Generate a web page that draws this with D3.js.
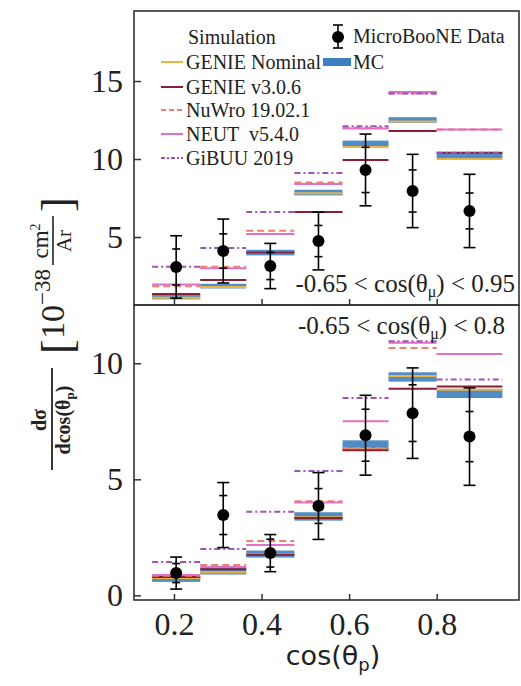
<!DOCTYPE html>
<html><head><meta charset="utf-8">
<script src="https://cdn.jsdelivr.net/npm/d3@7/dist/d3.min.js"></script>
<style>body{margin:0;background:#fff}svg{display:block}
.serif, .serif text{font-family:"Liberation Serif","Times New Roman",serif !important;}
</style>
</head><body>
<svg id="c" width="521" height="686"></svg>
<script>
// ---------------- data ----------------
const binEdges = [0.15, 0.26, 0.365, 0.475, 0.585, 0.69, 0.80, 0.95];
const xTicks = [0.2, 0.4, 0.6, 0.8];
const yTicksTop = [5, 10, 15];
const yTicksBottom = [0, 5, 10];

// Top panel: -0.65 < cos(theta_mu) < 0.95
const topData     = [3.08, 4.10, 3.14, 4.74, 9.30, 7.95, 6.67];
const topErrTot   = [2.00, 2.05, 1.45, 1.85, 2.30, 2.35, 2.35];
const topErrStat  = [1.15, 1.10, 0.87, 1.00, 1.45, 1.35, 1.15];
const topMC       = [1.15, 1.85, 4.00, 7.85, 11.0, 12.5, 10.2];
const topMCErr    = [0.15, 0.15, 0.18, 0.18, 0.18, 0.18, 0.18];
const topNominal  = [1.10, 1.80, 4.00, 7.80, 10.77, 12.4, 10.0];
const topGenieV3  = [1.35, 2.25, 4.00, 6.60, 9.94, 11.8, 10.4];
const topNuWro    = [1.85, 3.10, 5.40, 8.50, 12.0, 14.2, 11.9];
const topNEUT     = [1.95, 3.00, 5.20, 8.40, 11.95, 14.3, 11.9];
const topGiBUU    = [3.10, 4.30, 6.60, 9.10, 12.1, 14.2, 10.4];

// Bottom panel: -0.65 < cos(theta_mu) < 0.8
const botData     = [0.96, 3.46, 1.82, 3.85, 6.90, 7.85, 6.84];
const botErrTot   = [0.69, 1.40, 0.80, 1.44, 1.72, 1.95, 2.10];
const botErrStat  = [0.41, 0.84, 0.60, 0.75, 1.12, 1.22, 1.08];
const botMC       = [0.70, 1.05, 1.78, 3.40, 6.48, 9.41, 8.70];
const botMCErr    = [0.12, 0.15, 0.15, 0.18, 0.2, 0.2, 0.2];
const botNominal  = [0.75, 1.00, 1.78, 3.37, 6.30, 9.45, 8.86];
const botGenieV3  = [0.79, 1.13, 1.75, 3.33, 6.25, 8.90, 9.00];
const botNuWro    = [0.85, 1.31, 2.34, 4.06, 6.35, 10.66, 10.4];
const botNEUT     = [0.875, 1.22, 2.17, 4.00, 7.50, 10.88, 10.4];
const botGiBUU    = [1.44, 2.00, 3.60, 5.36, 8.50, 10.95, 9.30];

const models = [
  {name: "GENIE Nominal", key: "nominal", color: "#e9b448", dash: null},
  {name: "GENIE v3.0.6",  key: "v3",      color: "#8a1f33", dash: null},
  {name: "NuWro 19.02.1", key: "nuwro",   color: "#ec8070", dash: "7,4"},
  {name: "NEUT  v5.4.0",  key: "neut",    color: "#e070c4", dash: null},
  {name: "GiBUU 2019",    key: "gibuu",   color: "#9b55b8", dash: "6,3,2,3"}
];
const mcColor = "#3d7fc0";

// ---------------- layout ----------------
const svg = d3.select("#c");
const L = 134, R = 519;
const topY0 = 11, midY = 305, botY1 = 600;

const x = d3.scaleLinear().domain([0.1087, 0.988]).range([L, R]);
const yTop = d3.scaleLinear().domain([0.64, 19.49]).range([midY, topY0]);
const yBot = d3.scaleLinear().domain([-0.2, 12.51]).range([botY1, midY]);

function drawPanel(y, vals, ticks, showXLabels) {
  const g = svg.append("g");
  const n = vals.data.length;
  const bins = d3.range(n).map(i => ({lo: binEdges[i], hi: binEdges[i+1], c: (binEdges[i]+binEdges[i+1])/2}));
  g.selectAll("rect.mc").data(bins).join("rect")
    .attr("x", d => x(d.lo)).attr("width", d => x(d.hi) - x(d.lo))
    .attr("y", (d,i) => y(vals.mc[i] + vals.mcErr[i]))
    .attr("height", (d,i) => y(vals.mc[i] - vals.mcErr[i]) - y(vals.mc[i] + vals.mcErr[i]))
    .attr("fill", mcColor).attr("opacity", 0.9);
  models.forEach(m => {
    g.selectAll(null).data(bins).join("line")
      .attr("x1", d => x(d.lo)).attr("x2", d => x(d.hi))
      .attr("y1", (d,i) => y(vals[m.key][i])).attr("y2", (d,i) => y(vals[m.key][i]))
      .attr("stroke", m.color).attr("stroke-width", 2)
      .attr("stroke-dasharray", m.dash);
  });
  bins.forEach((d,i) => {
    const cx = x(d.c), v = vals.data[i];
    const et = vals.errTot[i], es = vals.errStat[i];
    g.append("line").attr("x1", cx).attr("x2", cx).attr("y1", y(v+et)).attr("y2", y(v-et))
      .attr("stroke", "#000").attr("stroke-width", 1.6);
    [v+et, v-et].forEach(e => g.append("line").attr("x1", cx-6).attr("x2", cx+6)
      .attr("y1", y(e)).attr("y2", y(e)).attr("stroke", "#000").attr("stroke-width", 1.6));
    [v+es, v-es].forEach(e => g.append("line").attr("x1", cx-4).attr("x2", cx+4)
      .attr("y1", y(e)).attr("y2", y(e)).attr("stroke", "#000").attr("stroke-width", 1.6));
    g.append("circle").attr("cx", cx).attr("cy", y(v)).attr("r", 6).attr("fill", "#000");
  });
  const r = y.range();
  const ya = d3.axisLeft(y).tickValues(ticks).tickSize(-7).tickPadding(11).tickFormat(d3.format("d"));
  const yg = g.append("g").attr("class", "serif").attr("transform", `translate(${L},0)`).call(ya);
  yg.attr("font-family", null).attr("font-size", 32);
  yg.select(".domain").remove();
  yg.selectAll("text").attr("fill", "#222");
  yg.selectAll("line").attr("stroke", "#333").attr("stroke-width", 1.5);
  const xa = d3.axisBottom(x).tickValues(xTicks).tickSize(-6).tickPadding(12)
    .tickFormat(showXLabels ? d3.format(".1f") : "");
  const xg = g.append("g").attr("class", "serif").attr("transform", `translate(0,${r[0]})`).call(xa);
  xg.attr("font-family", null).attr("font-size", 32);
  xg.select(".domain").remove();
  xg.selectAll("text").attr("fill", "#222");
  xg.selectAll("line").attr("stroke", "#333").attr("stroke-width", 1.5);
  g.append("rect").attr("x", L).attr("y", r[1]).attr("width", R-L).attr("height", r[0]-r[1])
    .attr("fill", "none").attr("stroke", "#333").attr("stroke-width", 1.6);
  return g;
}

const topVals = {data: topData, errTot: topErrTot, errStat: topErrStat, mc: topMC, mcErr: topMCErr,
  nominal: topNominal, v3: topGenieV3, nuwro: topNuWro, neut: topNEUT, gibuu: topGiBUU};
const botVals = {data: botData, errTot: botErrTot, errStat: botErrStat, mc: botMC, mcErr: botMCErr,
  nominal: botNominal, v3: botGenieV3, nuwro: botNuWro, neut: botNEUT, gibuu: botGiBUU};

drawPanel(yTop, topVals, yTicksTop, false);
drawPanel(yBot, botVals, yTicksBottom, true);

// annotations
function cosLabel(xEnd, yBase, hi) {
  const t = svg.append("text").attr("class", "serif").attr("x", xEnd).attr("y", yBase).attr("text-anchor", "end")
    .attr("font-size", 25).attr("fill", "#222");
  t.append("tspan").text("-0.65 < cos(θ");
  t.append("tspan").attr("font-size", 16).attr("dy", 5).text("μ");
  t.append("tspan").attr("dy", -5).text(") < " + hi);
}
cosLabel(515, 292, "0.95");
cosLabel(505, 334, "0.8");

// legend
const lg = svg.append("g").attr("class", "serif").attr("font-size", 20).attr("fill", "#222");
lg.append("text").attr("x", 188).attr("y", 44).text("Simulation");
const legY = [62, 87, 110, 134, 158];
models.forEach((m, i) => {
  lg.append("line").attr("x1", 161).attr("x2", 183).attr("y1", legY[i]).attr("y2", legY[i])
    .attr("stroke", m.color).attr("stroke-width", 2).attr("stroke-dasharray", m.dash ? (m.dash === "7,4" ? "5,3" : "4,2,2,2") : null);
  lg.append("text").attr("x", 186).attr("y", legY[i] + 7).style("white-space", "pre").text(m.name);
});
lg.append("line").attr("x1", 338).attr("x2", 338).attr("y1", 25).attr("y2", 48).attr("stroke", "#000").attr("stroke-width", 1.6);
[25, 48].forEach(yy => lg.append("line").attr("x1", 333).attr("x2", 343).attr("y1", yy).attr("y2", yy).attr("stroke", "#000").attr("stroke-width", 1.6));
lg.append("circle").attr("cx", 338).attr("cy", 37).attr("r", 6).attr("fill", "#000");
lg.append("text").attr("x", 353).attr("y", 43).text("MicroBooNE Data");
lg.append("rect").attr("x", 323).attr("y", 58).attr("width", 28).attr("height", 8).attr("fill", mcColor);
lg.append("text").attr("x", 353).attr("y", 69).text("MC");

// x axis label
const xl = svg.append("text").attr("x", 333).attr("y", 665).attr("text-anchor", "middle")
  .attr("font-family", "DejaVu Sans, sans-serif").attr("font-size", 27).attr("fill", "#222");
xl.append("tspan").text("cos(θ");
xl.append("tspan").attr("font-size", 18).attr("dy", 6).text("p");
xl.append("tspan").attr("dy", -6).text(")");

// y axis label (rotated)
const yl = svg.append("g").attr("class", "serif").attr("transform", "rotate(-90)").attr("fill", "#222");
yl.append("text").attr("x", -420).attr("y", 46).attr("text-anchor", "middle").attr("font-size", 20).attr("font-weight", "bold").text("dσ");
yl.append("line").attr("x1", -470).attr("x2", -368).attr("y1", 52).attr("y2", 52).attr("stroke", "#222").attr("stroke-width", 1.8);
const den = yl.append("text").attr("x", -420).attr("y", 70).attr("text-anchor", "middle").attr("font-size", 20).attr("font-weight", "bold");
den.append("tspan").text("dcos(θ");
den.append("tspan").attr("font-size", 13).attr("dy", 4).text("p");
den.append("tspan").attr("dy", -4).text(")");
yl.append("text").attr("x", -354).attr("y", 72).attr("font-size", 44).text("[");
const u = yl.append("text").attr("x", -339).attr("y", 64).attr("font-size", 34);
u.append("tspan").text("10");
u.append("tspan").attr("font-size", 23).attr("dy", -14).text("−38");
const cm = yl.append("text").attr("x", -241).attr("y", 48).attr("text-anchor", "middle").attr("font-size", 23);
cm.append("tspan").text("cm");
cm.append("tspan").attr("font-size", 14).attr("dy", -8).text("2");
yl.append("line").attr("x1", -265).attr("x2", -216).attr("y1", 53).attr("y2", 53).attr("stroke", "#222").attr("stroke-width", 1.6);
yl.append("text").attr("x", -241).attr("y", 71).attr("text-anchor", "middle").attr("font-size", 21).text("Ar");
yl.append("text").attr("x", -212).attr("y", 72).attr("font-size", 44).text("]");
</script>
</body></html>
